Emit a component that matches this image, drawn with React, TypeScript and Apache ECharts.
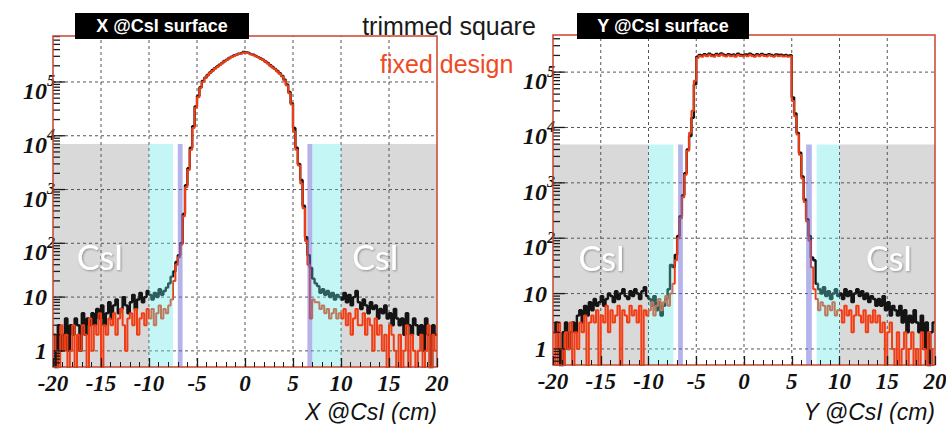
import { useEffect, useRef } from 'react';
import * as echarts from 'echarts';

// ---------- data ----------
const BIN_START = -20;
const BIN_WIDTH = 0.25; // 160 bins from -20 to 20

const xTickValues = [-20, -15, -10, -5, 0, 5, 10, 15, 20];
const gridXValues = [-15, -10, -5, 0, 5, 10, 15];
const yDecades = [0, 1, 2, 3, 4, 5];
const yLabelBase = ['1', '10', '10', '10', '10', '10'];
const yLabelSup = ['', '', '2', '3', '4', '5'];

// X @CsI surface — trimmed square (black)
const xBlack = [
  2, 0, 3, 1, 2, 4, 1, 3,
  2, 4, 3, 1, 5, 2, 4, 3,
  5, 3, 6, 4, 7, 3, 5, 8,
  4, 7, 9, 5, 6, 10, 7, 5,
  8, 11, 6, 9, 12, 8, 10, 13,
  11, 9, 12, 10, 14, 11, 13, 15, 18, 24,
  30, 45, 60, 100, 350, 1200, 2500, 6000, 15000, 35000,
  55000, 80000, 105000, 120000, 135000, 150000, 165000, 180000, 195000, 210000,
  225000, 245000, 260000, 280000, 295000, 310000, 320000, 335000, 345000, 360000,
  355000, 345000, 330000, 320000, 305000, 290000, 275000, 260000, 240000, 225000,
  205000, 190000, 175000, 160000, 145000, 130000, 110000, 90000, 65000, 40000,
  14000, 6000, 3000, 1500, 500, 130, 60, 35, 22, 18,
  16, 12, 14, 11, 13, 10, 12, 9, 11, 10,
  9, 12, 8, 11, 7, 10, 13, 8,
  6, 9, 7, 5, 8, 6, 7, 4,
  6, 5, 7, 4, 5, 3, 6, 4,
  3, 4, 2, 5, 3, 2, 4, 3,
  2, 3, 1, 4, 2, 0, 3, 2,
];
// X @CsI surface — fixed design (red)
const xRed = [
  2, 1, 0, 3, 1, 2, 0, 1,
  3, 0, 2, 1, 3, 2, 0, 4,
  1, 3, 2, 5, 0, 3, 2, 4,
  3, 5, 2, 4, 6, 3, 1, 4,
  5, 3, 6, 2, 4, 5, 3, 6,
  4, 6, 3, 5, 7, 4, 6, 5, 7, 9,
  20, 40, 55, 95, 320, 1100, 2300, 5500, 14000, 33000,
  52000, 78000, 100000, 118000, 132000, 148000, 160000, 178000, 190000, 205000,
  222000, 240000, 255000, 275000, 290000, 305000, 318000, 330000, 340000, 352000,
  350000, 340000, 328000, 315000, 300000, 288000, 270000, 255000, 238000, 220000,
  200000, 186000, 172000, 156000, 142000, 126000, 106000, 86000, 62000, 38000,
  12000, 5500, 2800, 1300, 450, 110, 40, 4, 9, 8,
  8, 6, 7, 5, 6, 4, 5, 6, 4, 5,
  4, 6, 3, 5, 2, 4, 6, 3,
  3, 5, 2, 4, 3, 1, 4, 2,
  3, 1, 2, 0, 3, 2, 1, 0,
  2, 0, 1, 3, 0, 2, 1, 0,
  1, 2, 0, 1, 3, 0, 2, 1,
];
// Y @CsI surface — trimmed square (black)
const yBlack = [
  2, 3, 1, 0, 2, 3, 1, 2,
  3, 2, 4, 5, 3, 6, 4, 7,
  5, 8, 6, 7, 9, 6, 8, 10,
  9, 7, 11, 8, 10, 12, 9, 8,
  11, 9, 12, 10, 8, 11, 13, 9,
  8, 6, 9, 5, 7, 4, 6, 8, 12, 33,
  30, 50, 110, 250, 600, 1500, 4000, 7000, 15000, 60000,
  190000,
  205000, 198000, 210000, 202000, 215000, 205000, 199000, 212000, 204000, 218000,
  206000, 200000, 211000, 203000, 208000, 199000, 214000, 205000, 201000, 209000,
  203000, 216000, 204000, 198000, 210000, 202000, 213000, 205000, 200000, 211000,
  204000, 198000, 209000, 203000, 207000, 200000, 205000, 198000, 202000,
  35000, 18000, 8000, 3500, 1300, 500, 220, 110, 45, 40,
  15, 12, 10, 13, 9, 11, 8, 10, 12, 9,
  10, 8, 12, 9, 11, 7, 10, 12,
  9, 11, 8, 10, 7, 9, 8, 6,
  8, 6, 9, 5, 7, 4, 6, 5,
  4, 6, 3, 5, 2, 4, 3, 5,
  3, 2, 4, 1, 3, 0, 2, 3,
];
// Y @CsI surface — fixed design (red)
const yRed = [
  2, 0, 3, 1, 0, 2, 1, 3,
  0, 2, 1, 3, 2, 4, 0, 3,
  4, 3, 5, 0, 4, 3, 6, 2,
  5, 3, 4, 6, 0, 5, 4, 3,
  6, 4, 5, 3, 6, 0, 5, 4,
  5, 7, 4, 6, 8, 5, 7, 9, 6, 10,
  15, 40, 100, 230, 550, 1400, 3800, 8000, 20000, 70000,
  180000,
  196000, 190000, 201000, 193000, 205000, 194000, 189000, 203000, 195000, 208000,
  197000, 191000, 202000, 194000, 199000, 190000, 204000, 196000, 192000, 200000,
  194000, 206000, 195000, 189000, 201000, 193000, 204000, 196000, 191000, 202000,
  195000, 189000, 200000, 194000, 198000, 191000, 196000, 190000, 193000,
  30000, 16000, 7500, 3200, 1200, 450, 200, 90, 30, 12,
  8, 5, 7, 6, 4, 6, 5, 7, 4, 5,
  5, 3, 6, 4, 5, 2, 4, 6,
  4, 3, 5, 2, 4, 3, 5, 3,
  4, 2, 3, 0, 2, 3, 1, 0,
  2, 0, 1, 2, 0, 1, 2, 0,
  1, 0, 2, 1, 0, 2, 1, 0,
];

// shaded regions [x0, x1]
const xGray = [[-20, -10], [10, 20]];
const xCyan = [[-10, -7.5], [7, 10]];
const xPurple = [[-7, -6.5], [6.5, 7]];
const yGray = [[-20, -10], [10, 20]];
const yCyan = [[-10, -7.4], [7.6, 10]];
const yPurple = [[-6.9, -6.4], [6.5, 7.1]];
const xShadeTop = 7000;
const yShadeTop = 4900;
const xCsILabels = [[-15.1, 56], [13.6, 56]];
const yCsILabels = [[-14.9, 45], [15.2, 45]];

// ---------- helpers ----------
const ZERO_LOG = -1;
const toLog = (v: number) => (v > 0 ? Math.log10(v) : ZERO_LOG);

function histPoints(vals: number[]) {
  const pts = vals.map((v, i) => [BIN_START + BIN_WIDTH * (i + 0.5), toLog(v)]);
  pts.unshift([BIN_START, toLog(vals[0])]);
  pts.push([BIN_START + BIN_WIDTH * vals.length, toLog(vals[vals.length - 1])]);
  return pts;
}

function minorTicks(yMin: number, yMax: number) {
  const out: number[][] = [];
  for (let n = -1; n <= 6; n++) {
    for (let k = 1; k <= 9; k++) {
      const l = Math.log10(k * Math.pow(10, n));
      if (l >= yMin && l <= yMax) out.push([l, k === 1 ? 1 : 0]);
    }
  }
  return out;
}

const SERIF = '"Liberation Serif", "DejaVu Serif", serif';
const SANS = '"Liberation Sans", Arial, sans-serif';

function panelSeries(
  idx: number,
  yMin: number,
  yMax: number,
  black: number[],
  red: number[],
  gray: number[][],
  cyan: number[][],
  purple: number[][],
  shadeTop: number,
  csi: number[][]
) {
  const top = Math.log10(shadeTop);
  const region = (regions: number[][], fill: string, z: number) => ({
    type: 'custom',
    xAxisIndex: idx,
    yAxisIndex: idx,
    z,
    silent: true,
    data: regions.map((r) => [r[0], r[1]]),
    renderItem: (_p: any, api: any) => {
      const a = api.coord([api.value(0), top]);
      const b = api.coord([api.value(1), yMin]);
      return {
        type: 'rect',
        shape: { x: a[0], y: a[1], width: b[0] - a[0], height: b[1] - a[1] },
        style: { fill },
      };
    },
  });
  const gridData = [
    ...gridXValues.map((x) => [0, x]),
    ...yDecades.map((d) => [1, d]),
  ];
  return [
    region(gray, '#d9d9d9', 1),
    {
      type: 'custom',
      xAxisIndex: idx,
      yAxisIndex: idx,
      z: 2,
      silent: true,
      data: gridData,
      renderItem: (_p: any, api: any) => {
        const kind = api.value(0);
        const v = api.value(1);
        let a, b;
        if (kind === 0) {
          a = api.coord([v, yMin]);
          b = api.coord([v, yMax]);
        } else {
          a = api.coord([-20, v]);
          b = api.coord([20, v]);
        }
        return {
          type: 'line',
          shape: { x1: a[0], y1: a[1], x2: b[0], y2: b[1] },
          style: { stroke: '#555', lineWidth: 1, lineDash: [3, 3] },
        };
      },
    },
    {
      type: 'custom',
      xAxisIndex: idx,
      yAxisIndex: idx,
      z: 2,
      silent: true,
      data: csi.map((c) => [c[0], Math.log10(c[1])]),
      renderItem: (_p: any, api: any) => {
        const p = api.coord([api.value(0), api.value(1)]);
        return {
          type: 'text',
          x: p[0],
          y: p[1],
          style: {
            text: 'CsI',
            fill: '#ffffff',
            fontSize: 34,
            fontFamily: 'Lato, "Open Sans", sans-serif',
            align: 'center',
            verticalAlign: 'middle',
            textShadowColor: 'rgba(0,0,0,0.35)',
            textShadowBlur: 2,
            textShadowOffsetX: 1,
            textShadowOffsetY: 1,
          },
        };
      },
    },
    {
      type: 'line',
      xAxisIndex: idx,
      yAxisIndex: idx,
      z: 3,
      step: 'middle',
      symbol: 'none',
      silent: true,
      clip: true,
      data: histPoints(black),
      lineStyle: { color: '#141414', width: 2.4 },
    },
    {
      type: 'line',
      xAxisIndex: idx,
      yAxisIndex: idx,
      z: 4,
      step: 'middle',
      symbol: 'none',
      silent: true,
      clip: true,
      data: histPoints(red),
      lineStyle: { color: '#f23d14', width: 2 },
    },
    region(cyan, 'rgba(91,231,231,0.36)', 5),
    region(purple, 'rgba(105,105,213,0.5)', 5),
    {
      type: 'custom',
      xAxisIndex: idx,
      yAxisIndex: idx,
      z: 8,
      silent: true,
      data: minorTicks(yMin, yMax),
      renderItem: (_p: any, api: any) => {
        const p = api.coord([-20, api.value(0)]);
        const len = api.value(1) === 1 ? 12 : 7;
        return {
          type: 'line',
          shape: { x1: p[0], y1: p[1], x2: p[0] + len, y2: p[1] },
          style: { stroke: '#1a1a1a', lineWidth: 1.3 },
        };
      },
    },
    {
      type: 'custom',
      xAxisIndex: idx,
      yAxisIndex: idx,
      z: 8,
      silent: true,
      data: yDecades.map((d, i) => [d, i]),
      renderItem: (_p: any, api: any) => {
        const p = api.coord([-20, api.value(0)]);
        const i = api.value(1);
        const sup = yLabelSup[i];
        const children: any[] = [
          {
            type: 'text',
            x: p[0] - 6,
            y: p[1] + (sup ? 9 : 0),
            style: {
              text: yLabelBase[i],
              fill: '#111',
              fontSize: 24,
              fontFamily: SERIF,
              fontStyle: 'italic',
              fontWeight: 'bold',
              align: 'right',
              verticalAlign: 'middle',
            },
          },
        ];
        if (sup) {
          children.push({
            type: 'text',
            x: p[0] - 6,
            y: p[1] - 1,
            style: {
              text: sup,
              fill: '#111',
              fontSize: 16,
              fontFamily: SERIF,
              fontStyle: 'italic',
              fontWeight: 'bold',
              align: 'left',
              verticalAlign: 'middle',
            },
          });
        }
        return { type: 'group', children };
      },
    },
    {
      type: 'custom',
      xAxisIndex: idx,
      yAxisIndex: idx,
      z: 9,
      silent: true,
      data: [[0]],
      renderItem: (_p: any, api: any) => {
        const a = api.coord([-20, yMax]);
        const b = api.coord([20, yMin]);
        return {
          type: 'rect',
          shape: { x: a[0], y: a[1], width: b[0] - a[0], height: b[1] - a[1] },
          style: { fill: 'none', stroke: '#c8442f', lineWidth: 1.5 },
        };
      },
    },
  ];
}

const PANEL_Y = [
  [-0.3, 5.855],
  [-0.29, 5.67],
];

export default function App() {
  const ref = useRef<HTMLDivElement>(null);
  useEffect(() => {
    if (!ref.current) return;
    const chart = echarts.init(ref.current, undefined, { renderer: 'svg' });
    const xAxisBase = (gridIndex: number) => ({
      type: 'value',
      gridIndex,
      min: xTickValues[0],
      max: xTickValues[xTickValues.length - 1],
      interval: 5,
      z: 10,
      position: 'bottom',
      axisLine: { show: false, onZero: false },
      splitLine: { show: false },
      axisTick: { show: true, inside: true, length: 9, lineStyle: { color: '#1a1a1a', width: 1.3 } },
      minorTick: { show: true, splitNumber: 5, length: 5, lineStyle: { color: '#1a1a1a', width: 1 } },
      axisLabel: {
        margin: 5,
        fontFamily: SERIF,
        fontStyle: 'italic',
        fontWeight: 'bold',
        fontSize: 23,
        color: '#111',
        showMinLabel: true,
        showMaxLabel: true,
        hideOverlap: false,
      },
    });
    const option: any = {
      animation: false,
      backgroundColor: '#ffffff',
      grid: [
        { left: 53, top: 36, width: 384, height: 331, containLabel: false, outerBoundsMode: 'none' },
        { left: 553, top: 35, width: 382, height: 330, containLabel: false, outerBoundsMode: 'none' },
      ],
      xAxis: [xAxisBase(0), xAxisBase(1)],
      yAxis: [
        { type: 'value', gridIndex: 0, min: PANEL_Y[0][0], max: PANEL_Y[0][1], show: false },
        { type: 'value', gridIndex: 1, min: PANEL_Y[1][0], max: PANEL_Y[1][1], show: false },
      ],
      series: [
        ...panelSeries(0, PANEL_Y[0][0], PANEL_Y[0][1], xBlack, xRed, xGray, xCyan, xPurple, xShadeTop, xCsILabels),
        ...panelSeries(1, PANEL_Y[1][0], PANEL_Y[1][1], yBlack, yRed, yGray, yCyan, yPurple, yShadeTop, yCsILabels),
      ],
      graphic: [
        { type: 'rect', z: 100, shape: { x: 75, y: 13, width: 174, height: 26 }, style: { fill: '#000' } },
        {
          type: 'text', z: 101, x: 162, y: 26,
          style: { text: 'X @CsI surface', fill: '#fff', fontSize: 18, fontWeight: 'bold', fontFamily: SANS, align: 'center', verticalAlign: 'middle' },
        },
        { type: 'rect', z: 100, shape: { x: 577, y: 13, width: 172, height: 26 }, style: { fill: '#000' } },
        {
          type: 'text', z: 101, x: 663, y: 26,
          style: { text: 'Y @CsI surface', fill: '#fff', fontSize: 18, fontWeight: 'bold', fontFamily: SANS, align: 'center', verticalAlign: 'middle' },
        },
        {
          type: 'text', z: 101, x: 449, y: 26,
          style: { text: 'trimmed square', fill: '#1a1a1a', fontSize: 25, fontFamily: SANS, align: 'center', verticalAlign: 'middle' },
        },
        {
          type: 'text', z: 101, x: 380, y: 64,
          style: { text: 'fixed design', fill: '#f04a25', fontSize: 25, fontFamily: SANS, align: 'left', verticalAlign: 'middle' },
        },
        {
          type: 'text', z: 101, x: 437, y: 412,
          style: { text: 'X @CsI (cm)', fill: '#111', fontSize: 23, fontStyle: 'italic', fontFamily: SANS, align: 'right', verticalAlign: 'middle' },
        },
        {
          type: 'text', z: 101, x: 935, y: 412,
          style: { text: 'Y @CsI (cm)', fill: '#111', fontSize: 23, fontStyle: 'italic', fontFamily: SANS, align: 'right', verticalAlign: 'middle' },
        },
      ],
    };
    chart.setOption(option);
    return () => chart.dispose();
  }, []);
  return (
    <div
      ref={ref}
      style={{ position: 'absolute', left: 0, top: 0, width: 946, height: 424 }}
    />
  );
}
